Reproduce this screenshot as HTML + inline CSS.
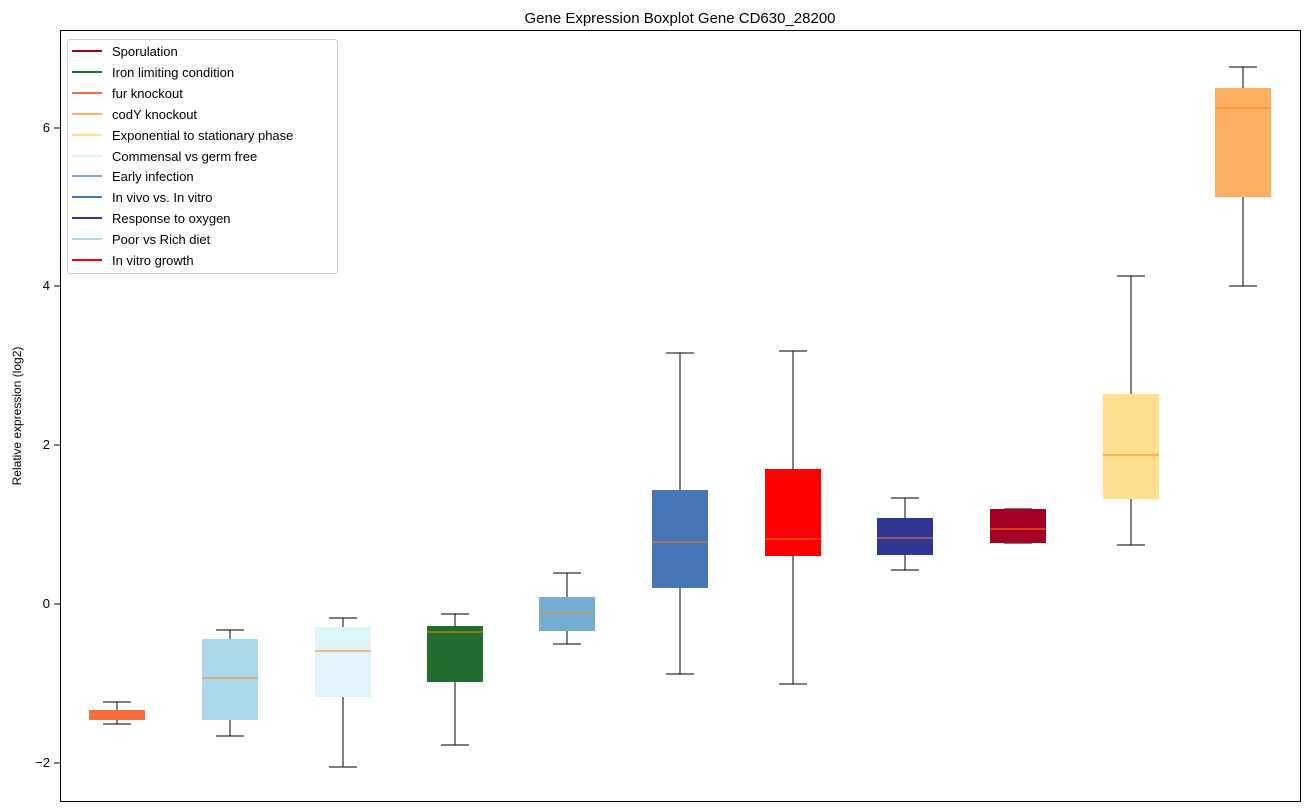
<!DOCTYPE html>
<html><head><style>body{margin:0;background:#fff}svg{display:block;font-family:"Liberation Sans","DejaVu Sans",sans-serif}</style></head><body>
<svg width="1309" height="812" xmlns="http://www.w3.org/2000/svg">
<rect x="0" y="0" width="1309" height="812" fill="#fff"/>
<text x="680" y="23" font-size="15" text-anchor="middle">Gene Expression Boxplot Gene CD630_28200</text>
<text transform="translate(21,416) rotate(-90)" font-size="12" text-anchor="middle">Relative expression (log2)</text>
<g font-size="13" text-anchor="end">
<line x1="54" y1="128" x2="60" y2="128" stroke="#000"/><text x="50" y="132">6</text>
<line x1="54" y1="286" x2="60" y2="286" stroke="#000"/><text x="50" y="290">4</text>
<line x1="54" y1="445" x2="60" y2="445" stroke="#000"/><text x="50" y="449">2</text>
<line x1="54" y1="604" x2="60" y2="604" stroke="#000"/><text x="50" y="608">0</text>
<line x1="54" y1="763" x2="60" y2="763" stroke="#000"/><text x="50" y="767">−2</text>
</g>
<g stroke="#000" stroke-width="1">
<path d="M117 702V710M117 720V724M103 702H131M103 724H131"/>
<path d="M230 630V639M230 720V736M216 630H244M216 736H244"/>
<path d="M343 618V627M343 697V767M329 618H357M329 767H357"/>
<path d="M455 614V626M455 682V745M441 614H469M441 745H469"/>
<path d="M567 573V597M567 631V644M553 573H581M553 644H581"/>
<path d="M680 353V490M680 588V674M666 353H694M666 674H694"/>
<path d="M793 351V469M793 556V684M779 351H807M779 684H807"/>
<path d="M905 498V518M905 555V570M891 498H919M891 570H919"/>
<path d="M1004 509H1032M1004 543H1032"/>
<path d="M1131 276V394M1131 499V545M1117 276H1145M1117 545H1145"/>
<path d="M1243 67V88M1243 197V286M1229 67H1257M1229 286H1257"/>
</g>
<g>
<rect x="89" y="710" width="56" height="10" fill="#f46d43"/>
<rect x="202" y="639" width="56" height="81" fill="#abd9e9"/>
<rect x="315" y="627" width="56" height="70" fill="#e0f3f8"/>
<rect x="427" y="626" width="56" height="56" fill="#236e2e"/>
<rect x="539" y="597" width="56" height="34" fill="#74add1"/>
<rect x="652" y="490" width="56" height="98" fill="#4575b4"/>
<rect x="765" y="469" width="56" height="87" fill="#ff0000"/>
<rect x="877" y="518" width="56" height="37" fill="#313695"/>
<rect x="990" y="509" width="56" height="34" fill="#a50026"/>
<rect x="1103" y="394" width="56" height="105" fill="#fee090"/>
<rect x="1215" y="88" width="56" height="109" fill="#fdae61"/>
</g>
<g stroke="#ff7f0e" stroke-width="1">
<path d="M89 715H145M202 678H258M315 651H371M427 632H483M539 613H595M652 542H708M765 539H821M877 538H933M990 529H1046M1103 455H1159M1215 108H1271"/>
</g>
<rect x="60.5" y="30.5" width="1240" height="771" fill="none" stroke="#000"/>
<rect x="67.5" y="39.5" width="270" height="234" rx="3" fill="#fff" fill-opacity="0.8" stroke="#ccc"/>
<g font-size="13">
<g stroke-width="2">
<line x1="72" x2="102" y1="51" y2="51" stroke="#a50026"/>
<line x1="72" x2="102" y1="72" y2="72" stroke="#236e2e"/>
<line x1="72" x2="102" y1="93" y2="93" stroke="#f46d43"/>
<line x1="72" x2="102" y1="114" y2="114" stroke="#fdae61"/>
<line x1="72" x2="102" y1="135" y2="135" stroke="#fee090"/>
<line x1="72" x2="102" y1="156" y2="156" stroke="#e0f3f8"/>
<line x1="72" x2="102" y1="176" y2="176" stroke="#74add1"/>
<line x1="72" x2="102" y1="197" y2="197" stroke="#4575b4"/>
<line x1="72" x2="102" y1="218" y2="218" stroke="#313695"/>
<line x1="72" x2="102" y1="239" y2="239" stroke="#abd9e9"/>
<line x1="72" x2="102" y1="260" y2="260" stroke="#ff0000"/>
</g>
<text x="112" y="56">Sporulation</text>
<text x="112" y="77">Iron limiting condition</text>
<text x="112" y="98">fur knockout</text>
<text x="112" y="119">codY knockout</text>
<text x="112" y="140">Exponential to stationary phase</text>
<text x="112" y="161">Commensal vs germ free</text>
<text x="112" y="181">Early infection</text>
<text x="112" y="202">In vivo vs. In vitro</text>
<text x="112" y="223">Response to oxygen</text>
<text x="112" y="244">Poor vs Rich diet</text>
<text x="112" y="265">In vitro growth</text>
</g>
</svg>
</body></html>
